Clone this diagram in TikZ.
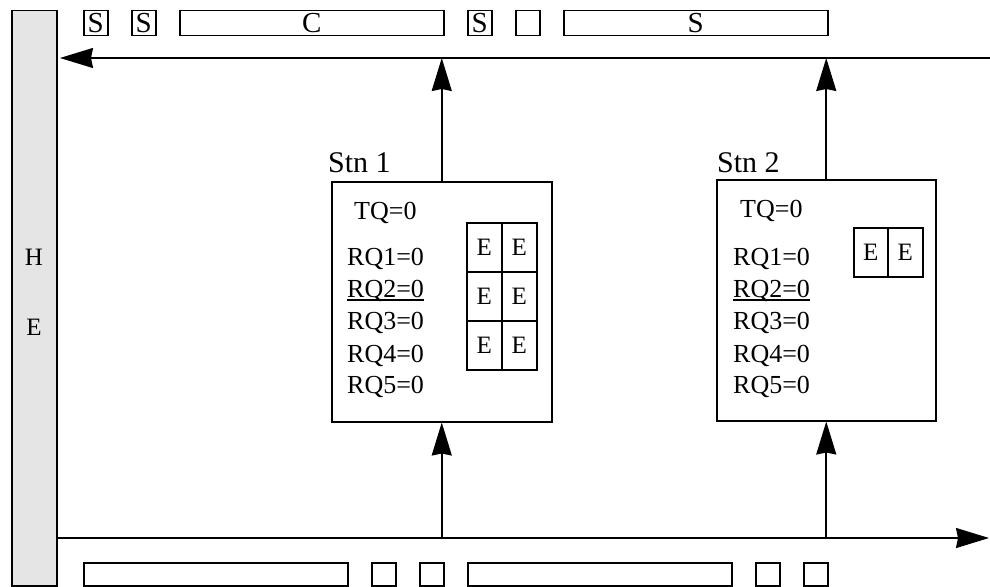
\documentclass[tikz,border=0pt]{standalone}
\usepackage{fontspec}
\setmainfont{Liberation Serif}
\usetikzlibrary{arrows.meta}
\tikzset{
  box/.style={draw, line width=1.5pt, fill=white, inner sep=0pt, anchor=north west},
  lbl/.style={font=\fontsize{26}{28}\selectfont, inner sep=0pt, anchor=base west},
  slbl/.style={font=\fontsize{30}{32}\selectfont, inner sep=0pt, anchor=base west},
  cell/.style={draw, line width=1.5pt, minimum width=35pt, minimum height=49pt, inner sep=0pt, anchor=north west, font=\fontsize{25}{27}\selectfont},
  arr/.style={line width=1.6pt, -{Stealth[length=33pt,width=20pt,inset=2pt]}},
}
\newcommand{\tbox}[6]{\node[box, minimum width=#3pt, minimum height=#4pt, font=\fontsize{29}{29}\selectfont] (#5) at (#1,#2) {#6};}
\begin{document}
\begin{tikzpicture}[x=1pt,y=-1pt]
\useasboundingbox (0,0) rectangle (990,586);
% gray side bar
\node[draw, line width=1.5pt, fill=black!10, minimum width=45pt, minimum height=575pt, inner sep=0pt, anchor=north west] (bar) at (11,10) {};
\node[font=\fontsize{25}{27}\selectfont, inner sep=0pt] (h) at (34,257) {H};
\node[font=\fontsize{25}{27}\selectfont, inner sep=0pt] (e) at (34,327) {E};
% top boxes
\tbox{83}{10}{24}{25}{t1}{S}
\tbox{131}{10}{24}{25}{t2}{S}
\tbox{179}{10}{264}{25}{t3}{C}
\tbox{467}{10}{24}{25}{t4}{S}
\tbox{515}{10}{24}{25}{t5}{}
\tbox{563}{10}{264}{25}{t6}{S}
% bottom boxes
\tbox{83}{562}{264}{23}{b1}{}
\tbox{371}{562}{24}{23}{b2}{}
\tbox{419}{562}{24}{23}{b3}{}
\tbox{467}{562}{264}{23}{b4}{}
\tbox{755}{562}{24}{23}{b5}{}
\tbox{803}{562}{24}{23}{b6}{}
% buses
\coordinate (topR) at (990,58);
\coordinate (topL) at (60,58);
\coordinate (botL) at (56,538);
\coordinate (botR) at (989,538);
\draw[arr] (topR) -- (topL);
\draw[arr] (botL) -- (botR);
% stations
\node[box, minimum width=220pt, minimum height=240pt] (stn1) at (331,181) {};
\node[box, minimum width=219pt, minimum height=241pt] (stn2) at (716,179) {};
\node[slbl] (s1l) at (328,172) {Stn 1};
\node[slbl] (s2l) at (717,172) {Stn 2};
% station 1 text
\node[lbl] (a0) at (354,219) {TQ=0};
\node[lbl] (a1) at (347,265) {RQ1=0};
\node[lbl] (a2) at (347,297) {RQ2=0};
\node[lbl] (a3) at (347,329) {RQ3=0};
\node[lbl] (a4) at (347,362) {RQ4=0};
\node[lbl] (a5) at (347,393) {RQ5=0};
\draw[line width=1.2pt] (a2.base west) ++(0,3) -- (a2.base east |- {0,300});
% station 2 text
\node[lbl] (c0) at (740,217) {TQ=0};
\node[lbl] (c1) at (733,265) {RQ1=0};
\node[lbl] (c2) at (733,297) {RQ2=0};
\node[lbl] (c3) at (733,329) {RQ3=0};
\node[lbl] (c4) at (733,362) {RQ4=0};
\node[lbl] (c5) at (733,393) {RQ5=0};
\draw[line width=1.2pt] (c2.base west) ++(0,3) -- (c2.base east |- {0,300});
% E cells station 1
\node[cell] (e11) at (466,222) {E};
\node[cell] (e12) at (501,222) {E};
\node[cell] (e21) at (466,271) {E};
\node[cell] (e22) at (501,271) {E};
\node[cell] (e31) at (466,320) {E};
\node[cell] (e32) at (501,320) {E};
% E cells station 2
\node[cell, minimum width=34pt] (f1) at (853,227) {E};
\node[cell, minimum width=35pt] (f2) at (887,227) {E};
% vertical arrows
\draw[arr] (stn1.north) -- (stn1.north |- topR);
\draw[arr] (stn2.north) -- (stn2.north |- topR);
\draw[arr] (stn1.south |- botR) -- (stn1.south);
\draw[arr] (stn2.south |- botR) -- (stn2.south);
\end{tikzpicture}
\end{document}
